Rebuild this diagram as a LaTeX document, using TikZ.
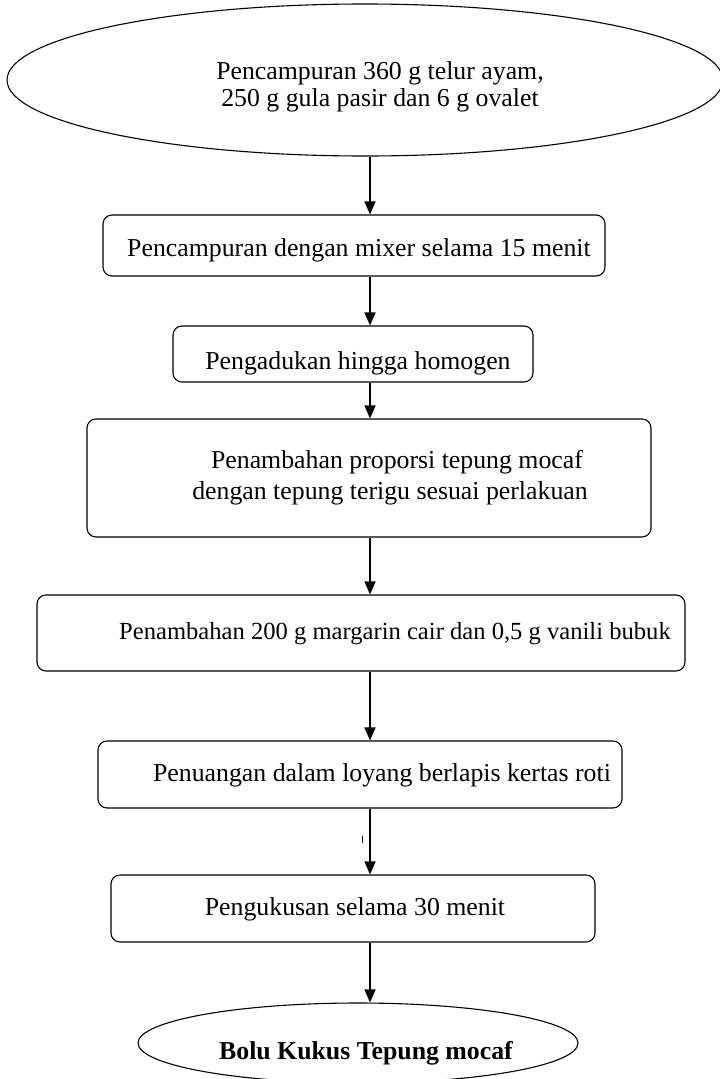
\documentclass[tikz,border=0pt]{standalone}
\usepackage{fontspec}
\setmainfont{Liberation Serif}
\usetikzlibrary{shapes.geometric,arrows.meta}
\begin{document}
\begin{tikzpicture}[x=1pt,y=-1pt,
  box/.style={draw,line width=1.1pt,rounded corners=9pt,inner sep=0pt},
  oval/.style={draw,ellipse,line width=1.1pt,inner sep=0pt},
  txt/.style={inner sep=0pt,font=\fontsize{25.8}{31}\selectfont},
  arr/.style={line width=1.6pt,-{Triangle[width=11pt,length=13pt]}}]
\useasboundingbox (0,0) rectangle (720,1079);
\coordinate (ax) at (370,0);
% shapes
\node[oval,minimum width=716pt,minimum height=152pt] (e1) at (365,80) {};
\node[box,minimum width=502pt,minimum height=61pt] (b1) at (354,245.5) {};
\node[box,minimum width=360pt,minimum height=56pt] (b2) at (353,354) {};
\node[box,minimum width=564pt,minimum height=118pt] (b3) at (369,478) {};
\node[box,minimum width=648pt,minimum height=76pt] (b4) at (361,633) {};
\node[box,minimum width=524pt,minimum height=67pt] (b5) at (360,774.5) {};
\node[box,minimum width=484pt,minimum height=67pt] (b6) at (353,908.5) {};
\node[oval,minimum width=440pt,minimum height=80pt] (e2) at (358,1043) {};
% texts
\node[txt] (t1a) at (380,73) {Pencampuran 360 g telur ayam,};
\node[txt] (t1b) at (380,100) {250 g gula pasir dan 6 g ovalet};
\node[txt] (t2) at (359,250) {Pencampuran dengan mixer selama 15 menit};
\node[txt] (t3) at (358,363) {Pengadukan hingga homogen};
\node[txt] (t4a) at (397,462) {Penambahan proporsi tepung mocaf};
\node[txt] (t4b) at (390,493) {dengan tepung terigu sesuai perlakuan};
\node[txt,font=\fontsize{24.6}{30}\selectfont] (t5) at (395,634) {Penambahan 200 g margarin cair dan 0,5 g vanili bubuk};
\node[txt] (t6) at (382,775) {Penuangan dalam loyang berlapis kertas roti};
\node[txt] (t7) at (355,909) {Pengukusan selama 30 menit};
\node[txt,font=\fontsize{25.8}{31}\selectfont\bfseries] (t8) at (366,1053) {Bolu Kukus Tepung mocaf};
% connectors
\draw[arr] (e1.south -| ax) -- (b1.north -| ax);
\draw[arr] (b1.south -| ax) -- (b2.north -| ax);
\draw[arr] (b2.south -| ax) -- (b3.north -| ax);
\draw[arr] (b3.south -| ax) -- (b4.north -| ax);
\draw[arr] (b4.south -| ax) -- (b5.north -| ax);
\draw[arr] (b5.south -| ax) -- (b6.north -| ax);
\draw[arr] (b6.south -| ax) -- (e2.north -| ax);
% stray tick
\draw[line width=1pt] (362,836) -- (362,843);
\end{tikzpicture}
\end{document}
